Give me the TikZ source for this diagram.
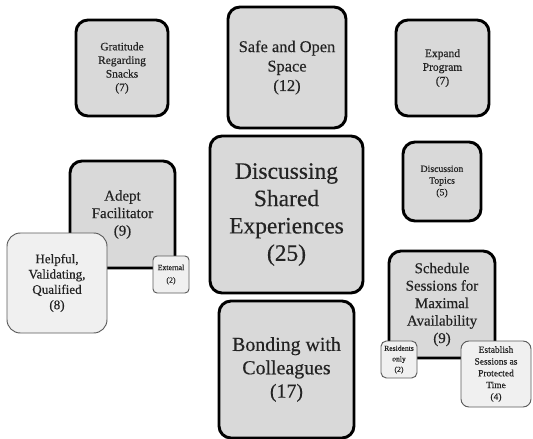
\documentclass[tikz,border=0pt]{standalone}
\usepackage{fontspec}
\setmainfont{Liberation Serif}[FakeBold=0.4]
\usepackage{xcolor}
\definecolor{boxgray}{RGB}{217,217,217}
\definecolor{subgray}{RGB}{240,240,240}
\definecolor{subline}{RGB}{90,90,90}
\definecolor{inkgray}{RGB}{35,35,35}
\tikzset{
  cat/.style={rectangle, draw=black, fill=boxgray, line width=2.2pt,
    rounded corners=9pt, align=center, inner sep=0pt, text=inkgray},
  sub/.style={rectangle, draw=subline, fill=subgray, line width=0.7pt,
    rounded corners=7pt, align=center, inner sep=0pt, text=inkgray},
}
\newcommand{\fs}[2]{\fontsize{#1}{#2}\selectfont}

\begin{document}
\begin{tikzpicture}[x=0.75pt, y=-0.75pt]
  \useasboundingbox (0,0) rectangle (533,439);

  % Top row
  \node[cat, minimum width=69pt, minimum height=72pt, font=\fs{8.6}{10.2}]
       (grat) at (122,68) {Gratitude\\Regarding\\Snacks\\(7)};
  \node[cat, minimum width=88.5pt, minimum height=90.75pt, font=\fs{12.3}{14.6}]
       (safe) at (287,67.5) {Safe and Open\\Space\\(12)};
  \node[cat, minimum width=69.75pt, minimum height=72pt, font=\fs{8.6}{10.3}]
       (expand) at (442.5,68) {Expand\\Program\\(7)};

  % Core theme
  \node[cat, minimum width=114.75pt, minimum height=117.75pt, font=\fs{17.6}{20.5}]
       (disc) at (286.5,214.5) {Discussing\\Shared\\Experiences\\(25)};
  \node[cat, minimum width=58.5pt, minimum height=59.25pt, font=\fs{7.3}{8.8}]
       (topics) at (442,181.5) {Discussion\\Topics\\(5)};

  % Facilitator with subthemes
  \node[cat, minimum width=78.75pt, minimum height=80.25pt, font=\fs{11.2}{13.1}]
       (adept) at (122.5,214.5) {Adept\\Facilitator\\(9)};
  \node[sub, minimum width=75pt, minimum height=75pt, font=\fs{9.8}{11.5},
        rounded corners=10pt]
       (helpful) at (57,283) {Helpful,\\Validating,\\Qualified\\(8)};
  \node[sub, minimum width=27pt, minimum height=27.75pt, font=\fs{5.9}{9.5},
        rounded corners=3pt]
       (external) at (171,274.5) {External\\(2)};

  % Bottom
  \node[cat, minimum width=101.25pt, minimum height=102.75pt, font=\fs{14.9}{17.5}]
       (bond) at (286.5,369.5) {Bonding with\\Colleagues\\(17)};

  % Scheduling with subthemes
  \node[cat, minimum width=79.5pt, minimum height=80.25pt, font=\fs{11.2}{13.1}]
       (sched) at (442,304.5)
       {Schedule\\Sessions for\\Maximal\\Availability\\(9)};
  \node[sub, minimum width=27pt, minimum height=27.75pt, font=\fs{5.7}{7.9},
        rounded corners=4pt]
       (resid) at (399,359.5) {Residents\\only\\(2)};
  \node[sub, minimum width=52.5pt, minimum height=49.5pt, font=\fs{7.1}{8.8},
        rounded corners=6pt]
       (establish) at (496,374) {Establish\\Sessions as\\Protected\\Time\\(4)};
\end{tikzpicture}
\end{document}
